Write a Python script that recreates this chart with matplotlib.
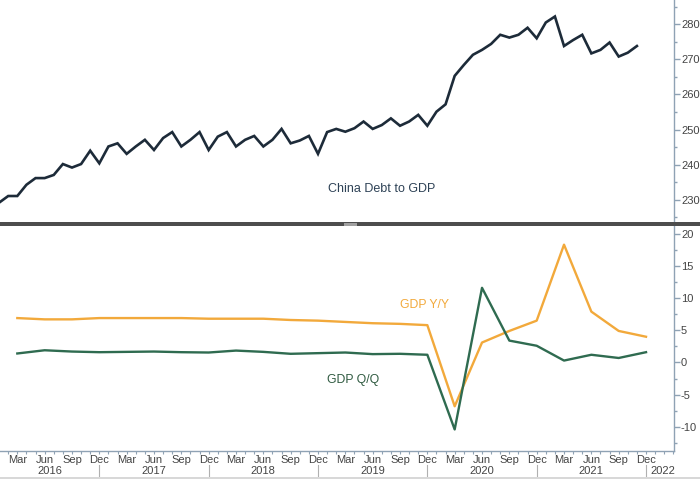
import numpy as np
import pandas as pd
import matplotlib
matplotlib.use("Agg")
import matplotlib.pyplot as plt
import matplotlib.ticker as ticker
import matplotlib.transforms as mtransforms
from matplotlib.patches import Rectangle

plt.rcParams["font.family"] = ["Liberation Sans", "DejaVu Sans"]

# monthly China debt to GDP, Jan 2016 .. Nov 2021
debt_months = pd.period_range("2016-01", "2021-11", freq="M")
debt = [229.2, 231.1, 231.1, 234.3, 236.2, 236.2, 237.1, 240.2, 239.2, 240.2, 244.0, 240.4,
        245.2, 246.1, 243.1, 245.2, 247.1, 244.2, 247.6, 249.3, 245.2, 247.1, 249.3, 244.2,
        248.0, 249.3, 245.2, 247.1, 248.2, 245.2, 247.1, 250.2, 246.1, 246.9, 248.2, 243.1,
        249.3, 250.2, 249.4, 250.4, 252.3, 250.2, 251.3, 253.2, 251.1, 252.3, 254.2, 251.1,
        255.1, 257.2, 265.3, 268.4, 271.3, 272.7, 274.4, 277.0, 276.2, 277.0, 279.0, 276.0,
        280.5, 282.2, 273.8, 275.5, 277.0, 271.7, 272.7, 274.8, 270.8, 271.9, 273.8]

# quarterly GDP growth, Q1 2016 .. Q4 2021
gdp_quarters = pd.period_range("2016-03", "2021-12", freq="3M")
gdp_yy = [6.9, 6.7, 6.7, 6.9, 6.9, 6.9, 6.9, 6.8, 6.8, 6.8, 6.6, 6.5,
          6.3, 6.1, 6.0, 5.8, -6.8, 3.1, 4.9, 6.5, 18.3, 7.9, 4.9, 4.0]
gdp_qq = [1.4, 1.9, 1.7, 1.6, 1.65, 1.7, 1.6, 1.55, 1.85, 1.65, 1.35, 1.45,
          1.55, 1.3, 1.35, 1.2, -10.4, 11.6, 3.4, 2.6, 0.3, 1.2, 0.7, 1.6]

month_names = ["Mar", "Jun", "Sep", "Dec"]
years = [2016, 2017, 2018, 2019, 2020, 2021, 2022]


def month_index(periods):
    return np.array([(p.year - 2016) * 12 + p.month - 1 for p in periods])


NAVY = "#1d2b39"
ORANGE = "#f2a93b"
GREEN = "#2f6b50"
AXIS = "#8fa2b4"
TXT = "#444444"

W, H = 700, 479
fig = plt.figure(figsize=(W / 100, H / 100), dpi=100)
fig.patch.set_facecolor("white")

ax_top = fig.add_axes([0, 1 - 222 / H, 674 / W, 222 / H])
ax_bot = fig.add_axes([0, 1 - 450.7 / H, 674 / W, 224.7 / H])

xlim = (0.1, 74.07)

x_debt = month_index(debt_months)
ax_top.plot(x_debt, debt, color=NAVY, lw=1.9, solid_joinstyle="miter")
ax_top.set_ylim(223.7, 286.9)
ax_top.yaxis.set_major_locator(ticker.MultipleLocator(10))
ax_top.yaxis.set_minor_locator(ticker.MultipleLocator(5))

x_gdp = month_index(gdp_quarters)
ax_bot.plot(x_gdp, gdp_yy, color=ORANGE, lw=1.7)
ax_bot.plot(x_gdp, gdp_qq, color=GREEN, lw=1.7)
ax_bot.set_ylim(-13.7, 21.2)
ax_bot.yaxis.set_major_locator(ticker.MultipleLocator(5))
ax_bot.yaxis.set_minor_locator(ticker.MultipleLocator(2.5))

for ax in (ax_top, ax_bot):
    ax.set_xlim(*xlim)
    ax.set_facecolor("none")
    for s in ("top", "left", "bottom"):
        ax.spines[s].set_visible(False)
    ax.spines["right"].set_color(AXIS)
    ax.spines["right"].set_linewidth(1.0)
    ax.yaxis.tick_right()
    ax.tick_params(axis="y", which="major", direction="out", length=4, width=1,
                   color=AXIS, labelsize=8, labelcolor=TXT, pad=1)
    ax.tick_params(axis="y", which="minor", direction="out", length=2.5, width=1, color=AXIS)

ax_top.set_xticks([])
ax_top.yaxis.set_major_formatter(ticker.FormatStrFormatter("%d"))
ax_bot.yaxis.set_major_formatter(ticker.FormatStrFormatter("%d"))

# x axis: monthly minor ticks, quarter labels, year separators
ax_bot.spines["bottom"].set_visible(True)
ax_bot.spines["bottom"].set_color(AXIS)
ax_bot.spines["bottom"].set_linewidth(1.0)
qticks = np.arange(2, 72, 3)
ax_bot.set_xticks(qticks)
ax_bot.set_xticklabels([month_names[i % 4] for i in range(len(qticks))])
ax_bot.xaxis.set_minor_locator(ticker.FixedLocator(np.arange(0, 75)))
ax_bot.tick_params(axis="x", which="both", direction="out", length=2.5, width=0.8,
                   color=AXIS, labelsize=8, labelcolor=TXT, pad=0.5)

trans = mtransforms.blended_transform_factory(ax_bot.transData, ax_bot.transAxes)
for k in range(6):
    xs = 11 + 12 * k
    ax_bot.plot([xs, xs], [-0.065, -0.13], color="#b0b0b0", lw=0.8,
                transform=trans, clip_on=False)
year_pos = [5.55, 17, 29, 41, 53, 65, 72.8]
for yr, xp in zip(years, year_pos):
    ax_bot.text(xp, -0.09, str(yr), transform=trans, ha="center", va="center",
                fontsize=8, color=TXT)

# series labels
fig.text(381.5 / W, 1 - 189 / H, "China Debt to GDP", ha="center", va="center",
         fontsize=9, color="#2e4256")
fig.text(425 / W, 1 - 305 / H, "GDP Y/Y", ha="center", va="center",
         fontsize=8.8, color=ORANGE)
fig.text(353 / W, 1 - 380 / H, "GDP Q/Q", ha="center", va="center",
         fontsize=8.8, color="#2f5a40")

# panel divider and bottom strip
fig.patches.append(Rectangle((0, 1 - 226 / H), 1, 3.7 / H, transform=fig.transFigure,
                             facecolor="#4d4d4d", edgecolor="none", zorder=5))
fig.patches.append(Rectangle((344 / W, 1 - 225.5 / H), 13 / W, 2.5 / H,
                             transform=fig.transFigure, facecolor="#a0a0a0",
                             edgecolor="none", zorder=6))
fig.patches.append(Rectangle((0, 0), 1, 2.5 / H, transform=fig.transFigure,
                             facecolor="#d8d8d8", edgecolor="none", zorder=5))

fig.savefig("out.png", dpi=100)
